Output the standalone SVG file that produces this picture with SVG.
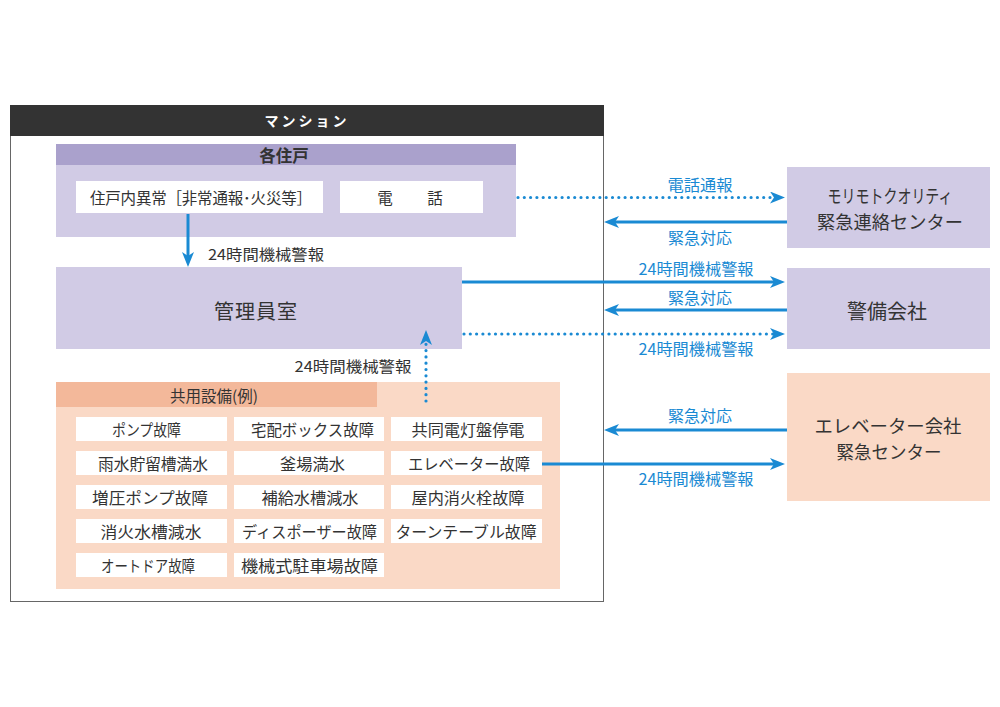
<svg xmlns="http://www.w3.org/2000/svg" width="1000" height="707" viewBox="0 0 1000 707">
<style>
text{font-family:"Noto Sans CJK JP","Noto Sans",sans-serif;fill:#333;dominant-baseline:central;text-anchor:middle}
.cell{fill:#fff}
.c{font-size:15.5px}
.blue{fill:#1a8ad3;font-size:15.5px}
.lbl{font-size:15px}
.sol{stroke:#1a8ad3;stroke-width:3;fill:none}
.dot{stroke:#1a8ad3;stroke-width:3.2;fill:none;stroke-dasharray:0 6.3;stroke-linecap:round}
.pb{fill:#d1cbe5}
.ph{fill:#aaa1cc}
.sb{fill:#fad9c6}
.sh{fill:#f3b89a}
</style>
<defs>
<marker id="ah" markerUnits="userSpaceOnUse" markerWidth="16" markerHeight="14" refX="7" refY="6" orient="auto">
<path d="M0,0 L15,6 L0,12 L4,6 Z" fill="#1a8ad3"/>
</marker>
</defs>
<rect width="1000" height="707" fill="#fff"/>

<g id="mansion">
<rect x="10.5" y="105.5" width="593" height="496" fill="#fff" stroke="#666" stroke-width="1"/>
<rect x="10" y="105" width="594" height="31" fill="#333"/>
<text x="307" y="120" style="fill:#fff;font-size:14px;font-weight:bold;letter-spacing:3px">マンション</text>
</g>

<g id="units">
<rect x="56" y="144" width="460" height="93" class="pb"/>
<rect x="56" y="144" width="460" height="21" class="ph"/>
<text x="284" y="155" style="font-size:16.5px;font-weight:bold">各住戸</text>
<rect x="76" y="181" width="247" height="32" class="cell"/>
<text x="201" y="197" class="c" textLength="222" lengthAdjust="spacing">住戸内異常［非常通報･火災等］</text>
<rect x="340" y="181" width="143" height="32" class="cell"/>
<text x="385" y="197" class="c">電</text>
<text x="435" y="197" class="c">話</text>
</g>

<g id="office">
<rect x="56" y="267" width="406" height="82" class="pb"/>
<text x="256" y="310" style="font-size:20px;letter-spacing:1px">管理員室</text>
</g>

<g id="common">
<rect x="56" y="382" width="504" height="207" class="sb"/>
<rect x="56" y="382" width="321" height="25" class="sh"/>
<text x="214" y="395" style="font-size:15.5px">共用設備(例)</text>
<g id="cells">
<rect x="76" y="417" width="151" height="24" class="cell"/>
<rect x="234" y="417" width="150" height="24" class="cell"/>
<rect x="391" y="417" width="151" height="24" class="cell"/>
<rect x="76" y="451" width="151" height="24" class="cell"/>
<rect x="234" y="451" width="150" height="24" class="cell"/>
<rect x="391" y="451" width="151" height="24" class="cell"/>
<rect x="76" y="485" width="151" height="24" class="cell"/>
<rect x="234" y="485" width="150" height="24" class="cell"/>
<rect x="391" y="485" width="151" height="24" class="cell"/>
<rect x="76" y="519" width="151" height="24" class="cell"/>
<rect x="234" y="519" width="150" height="24" class="cell"/>
<rect x="391" y="519" width="151" height="24" class="cell"/>
<rect x="76" y="553" width="151" height="24" class="cell"/>
<rect x="234" y="553" width="150" height="24" class="cell"/>
<text x="146.5" y="429" class="c" textLength="69" lengthAdjust="spacingAndGlyphs">ポンプ故障</text>
<text x="312.5" y="429" class="c" textLength="123" lengthAdjust="spacingAndGlyphs">宅配ボックス故障</text>
<text x="468" y="429" class="c" textLength="113" lengthAdjust="spacingAndGlyphs">共同電灯盤停電</text>
<text x="153" y="463" class="c" textLength="110" lengthAdjust="spacingAndGlyphs">雨水貯留槽満水</text>
<text x="312.5" y="463" class="c" textLength="65" lengthAdjust="spacingAndGlyphs">釜場満水</text>
<text x="469" y="463" class="c" textLength="122" lengthAdjust="spacingAndGlyphs">エレベーター故障</text>
<text x="150" y="497" class="c" textLength="116" lengthAdjust="spacingAndGlyphs">増圧ポンプ故障</text>
<text x="310" y="497" class="c" textLength="97" lengthAdjust="spacingAndGlyphs">補給水槽減水</text>
<text x="468" y="497" class="c" textLength="113" lengthAdjust="spacingAndGlyphs">屋内消火栓故障</text>
<text x="151" y="531" class="c" textLength="101" lengthAdjust="spacingAndGlyphs">消火水槽減水</text>
<text x="309.5" y="531" class="c" textLength="135" lengthAdjust="spacingAndGlyphs">ディスポーザー故障</text>
<text x="466" y="531" class="c" textLength="141" lengthAdjust="spacingAndGlyphs">ターンテーブル故障</text>
<text x="148" y="565" class="c" textLength="94" lengthAdjust="spacingAndGlyphs">オートドア故障</text>
<text x="309.5" y="565" class="c" textLength="137" lengthAdjust="spacingAndGlyphs">機械式駐車場故障</text>
</g>
</g>

<g id="morimoto">
<rect x="787" y="167" width="203" height="81" class="pb"/>
<text x="890" y="195" style="font-size:18.5px" textLength="125" lengthAdjust="spacingAndGlyphs">モリモトクオリティ</text>
<text x="890" y="221" style="font-size:18.5px" textLength="146" lengthAdjust="spacingAndGlyphs">緊急連絡センター</text>
</g>

<g id="security">
<rect x="787" y="268" width="203" height="81" class="pb"/>
<text x="887" y="310" style="font-size:20px">警備会社</text>
</g>

<g id="elevator">
<rect x="787" y="373" width="203" height="128" class="sb"/>
<text x="888" y="425" style="font-size:18px" textLength="147" lengthAdjust="spacingAndGlyphs">エレベーター会社</text>
<text x="889" y="451" style="font-size:18px" textLength="105" lengthAdjust="spacingAndGlyphs">緊急センター</text>
</g>

<g id="connectors">
<line x1="188" y1="214" x2="188" y2="259" class="sol" marker-end="url(#ah)"/>
<text x="266" y="253" class="lbl" textLength="116" lengthAdjust="spacingAndGlyphs">24時間機械警報</text>
<line x1="426" y1="401" x2="426" y2="338" class="dot" marker-end="url(#ah)"/>
<text x="353" y="365" class="lbl" textLength="117" lengthAdjust="spacingAndGlyphs">24時間機械警報</text>

<line x1="518" y1="197.5" x2="777" y2="197.5" class="dot" marker-end="url(#ah)"/>
<text x="700" y="184" class="blue" textLength="65" lengthAdjust="spacingAndGlyphs">電話通報</text>
<line x1="787" y1="222" x2="612" y2="222" class="sol" marker-end="url(#ah)"/>
<text x="700" y="237" class="blue" textLength="64" lengthAdjust="spacingAndGlyphs">緊急対応</text>

<line x1="462" y1="282" x2="777" y2="282" class="sol" marker-end="url(#ah)"/>
<text x="696" y="268" class="blue" textLength="115" lengthAdjust="spacingAndGlyphs">24時間機械警報</text>
<line x1="787" y1="310" x2="612" y2="310" class="sol" marker-end="url(#ah)"/>
<text x="700" y="297" class="blue" textLength="64" lengthAdjust="spacingAndGlyphs">緊急対応</text>
<line x1="464" y1="334" x2="777" y2="334" class="dot" marker-end="url(#ah)"/>
<text x="696" y="348" class="blue" textLength="115" lengthAdjust="spacingAndGlyphs">24時間機械警報</text>

<line x1="787" y1="430" x2="612" y2="430" class="sol" marker-end="url(#ah)"/>
<text x="700" y="415" class="blue" textLength="64" lengthAdjust="spacingAndGlyphs">緊急対応</text>
<line x1="542" y1="464" x2="777" y2="464" class="sol" marker-end="url(#ah)"/>
<text x="696" y="478" class="blue" textLength="115" lengthAdjust="spacingAndGlyphs">24時間機械警報</text>
</g>
</svg>
